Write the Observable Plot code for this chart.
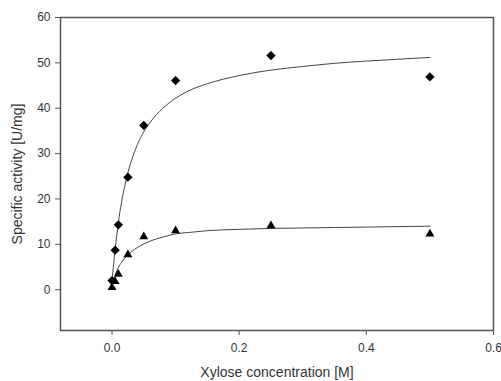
<!DOCTYPE html>
<html><head><meta charset="utf-8">
<script src="https://cdn.jsdelivr.net/npm/d3@7"></script>
<script src="https://cdn.jsdelivr.net/npm/@observablehq/plot@0.6"></script>
<style>body{margin:0;background:#fff;} #chart{width:501px;height:381px;}</style>
</head><body><div id="chart"></div>
<script>
// Measured data
const concentration = [0, 0.005, 0.01, 0.025, 0.05, 0.1, 0.25, 0.5];
const activityDiamond = [2.0, 8.7, 14.3, 24.8, 36.2, 46.1, 51.6, 46.9];
const activityTriangle = [0.5, 1.8, 3.4, 7.7, 11.7, 13.0, 14.1, 12.3];

// Fitted curves
const fitXUpper = [0, 0.0025, 0.005, 0.0075, 0.01, 0.015, 0.02, 0.025, 0.03, 0.04, 0.05, 0.06, 0.07, 0.08, 0.1, 0.12, 0.15, 0.2, 0.25, 0.3, 0.35, 0.4, 0.45, 0.5];
const fitYUpper = [1.8, 5.5, 9.0, 12.0, 14.8, 19.3, 22.8, 25.8, 28.2, 32.0, 34.8, 36.9, 38.6, 40.0, 42.2, 43.8, 45.4, 47.2, 48.4, 49.2, 49.9, 50.4, 50.8, 51.2];
const fitXLower = [0.0025, 0.005, 0.0075, 0.01, 0.015, 0.02, 0.025, 0.03, 0.04, 0.05, 0.06, 0.07, 0.08, 0.1, 0.12, 0.15, 0.2, 0.25, 0.3, 0.35, 0.4, 0.45, 0.5];
const fitYLower = [2.0, 3.2, 4.1, 4.9, 6.0, 7.0, 7.7, 8.3, 9.3, 10.1, 10.7, 11.2, 11.6, 12.3, 12.6, 13.0, 13.3, 13.5, 13.6, 13.7, 13.8, 13.9, 14.0];

const xTicks = [0, 0.2, 0.4, 0.6];
const yTicks = [0, 10, 20, 30, 40, 50, 60];

const diamonds = concentration.map((x, i) => ({x, y: activityDiamond[i]}));
const triangles = concentration.map((x, i) => ({x, y: activityTriangle[i]}));
const upper = fitXUpper.map((x, i) => ({x, y: fitYUpper[i]}));
const lower = fitXLower.map((x, i) => ({x, y: fitYLower[i]}));

const chart = Plot.plot({
  width: 501,
  height: 381,
  marginLeft: 60,
  marginRight: 8,
  marginTop: 17,
  marginBottom: 51,
  style: {fontFamily: "'Liberation Sans', Arial, sans-serif", fontSize: "12px", color: "#333", background: "#fff", overflow: "visible"},
  x: {domain: [-0.081, 0.6]},
  y: {domain: [-9, 60]},
  marks: [
    Plot.frame({stroke: "#555", strokeWidth: 1.5}),
    Plot.axisX({ticks: xTicks, tickFormat: d3.format(".1f"), tickSize: 5, tickPadding: 8, stroke: "#555", fontSize: 12,
      label: "Xylose concentration [M]", labelAnchor: "center", labelArrow: "none", labelOffset: 46}),
    Plot.axisY({ticks: yTicks, tickSize: 5, tickPadding: 5, stroke: "#555", fontSize: 12,
      label: "Specific activity [U/mg]", labelAnchor: "center", labelArrow: "none", labelOffset: 48}),
    Plot.line(upper, {x: "x", y: "y", stroke: "#444", strokeWidth: 1, curve: "monotone-x"}),
    Plot.line(lower, {x: "x", y: "y", stroke: "#444", strokeWidth: 1, curve: "monotone-x"}),
    Plot.dot(diamonds, {x: "x", y: "y", symbol: "diamond2", r: 4.2, fill: "#000", stroke: "none"}),
    Plot.dot(triangles, {x: "x", y: "y", symbol: "triangle", r: 3.3, fill: "#000", stroke: "none"})
  ]
});
chart.querySelectorAll('g[aria-label="x-axis label"] text, g[aria-label="y-axis label"] text').forEach(t => t.setAttribute("font-size", "14px"));
document.getElementById("chart").appendChild(chart);
</script>
</body></html>
